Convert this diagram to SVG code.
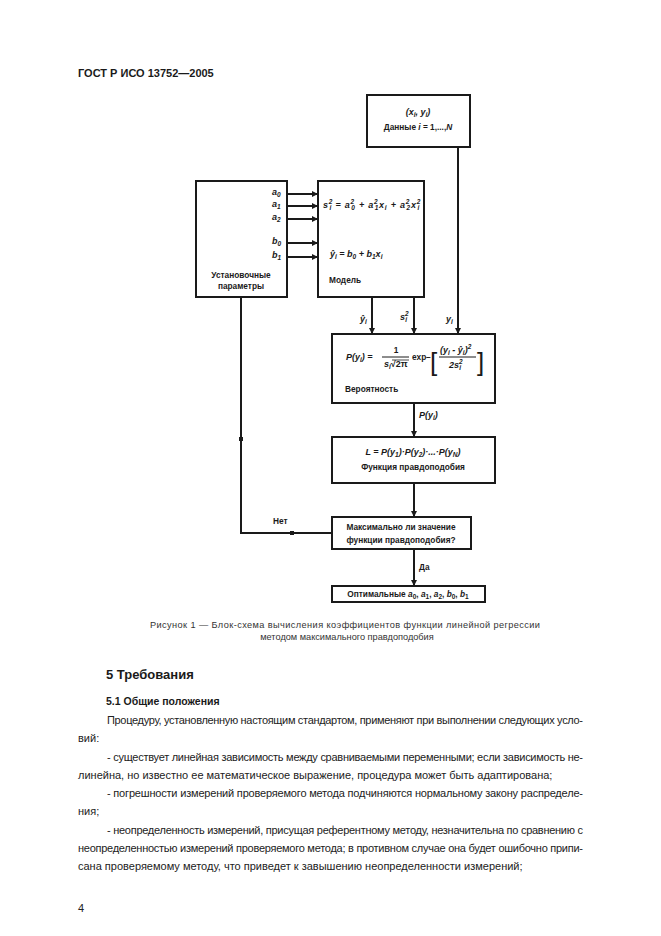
<svg xmlns="http://www.w3.org/2000/svg" width="661" height="936" viewBox="0 0 661 936">
<defs>
<marker id="arr" markerUnits="userSpaceOnUse" markerWidth="6" markerHeight="6" refX="6" refY="3" orient="auto">
<path d="M0,0 L6,3 L0,6 z" fill="#1a1a1a"/>
</marker>
<style>
.box{fill:#fff;stroke:#1a1a1a;stroke-width:2}
.ln{fill:none;stroke:#1a1a1a;stroke-width:2}
.d{font-family:"Liberation Sans",Arial,sans-serif;font-size:8.3px;font-weight:bold;fill:#1a1a1a}
.m{font-family:"Liberation Sans",Arial,sans-serif;font-size:9px;font-weight:bold;font-style:italic;fill:#1a1a1a}
.s{font-size:6.5px}
.b{font-family:"Liberation Sans",Arial,sans-serif;font-size:11px;fill:#222}
.c{font-family:"Liberation Sans",Arial,sans-serif;font-size:9.2px;fill:#333}
</style>
</defs>
<rect width="661" height="936" fill="#fff"/>
<text x="78" y="77" font-family="Liberation Sans,Arial,sans-serif" font-size="11" font-weight="bold" fill="#1a1a1a">ГОСТ Р ИСО 13752—2005</text>

<g id="connectors">
<path class="ln" d="M458,147 V334" marker-end="url(#arr)"/>
<path class="ln" d="M287,194 H318" marker-end="url(#arr)"/>
<path class="ln" d="M287,206 H318" marker-end="url(#arr)"/>
<path class="ln" d="M287,219 H318" marker-end="url(#arr)"/>
<path class="ln" d="M287,243 H318" marker-end="url(#arr)"/>
<path class="ln" d="M287,257 H318" marker-end="url(#arr)"/>
<path class="ln" d="M372,297 V334" marker-end="url(#arr)"/>
<path class="ln" d="M414,297 V334" marker-end="url(#arr)"/>
<path class="ln" d="M414,403 V437" marker-end="url(#arr)"/>
<path class="ln" d="M414,483 V517" marker-end="url(#arr)"/>
<path class="ln" d="M414,549 V586" marker-end="url(#arr)"/>
<path class="ln" d="M332,533 H241 V297"/>
<rect x="239" y="437" width="4" height="4" fill="#1a1a1a"/>
<rect x="290" y="531" width="4" height="4" fill="#1a1a1a"/>
<text class="m" x="360" y="322">ŷ<tspan class="s" dy="2">i</tspan></text>
<text class="m" x="400" y="320">s<tspan class="s" dy="-4">2</tspan><tspan class="s" dx="-3.5" dy="6">i</tspan></text>
<text class="m" x="446" y="322">y<tspan class="s" dy="2">i</tspan></text>
<text class="m" x="419" y="418">P(y<tspan class="s" dy="2">i</tspan><tspan dy="-2">)</tspan></text>
<text class="d" x="273" y="524">Нет</text>
<text class="d" x="419" y="570">Да</text>
</g>

<g id="data">
<rect class="box" x="367" y="95" width="103" height="52"/>
<text class="m" x="418" y="115" text-anchor="middle">(x<tspan class="s" dy="2">i</tspan><tspan dy="-2">, y</tspan><tspan class="s" dy="2">i</tspan><tspan dy="-2">)</tspan></text>
<text class="d" x="418" y="130" text-anchor="middle">Данные <tspan font-style="italic">i</tspan> = 1,...,<tspan font-style="italic">N</tspan></text>
</g>

<g id="params">
<rect class="box" x="196" y="181" width="91" height="116"/>
<text class="m" x="272" y="195">a<tspan class="s" dy="2">0</tspan></text>
<text class="m" x="272" y="207">a<tspan class="s" dy="2">1</tspan></text>
<text class="m" x="272" y="220">a<tspan class="s" dy="2">2</tspan></text>
<text class="m" x="272" y="244">b<tspan class="s" dy="2">0</tspan></text>
<text class="m" x="272" y="258">b<tspan class="s" dy="2">1</tspan></text>
<text class="d" x="241" y="278" text-anchor="middle">Установочные</text>
<text class="d" x="241" y="289" text-anchor="middle">параметры</text>
</g>

<g id="model">
<rect class="box" x="318" y="181" width="106" height="116"/>
<text class="m" x="323" y="208" font-size="9.5" textLength="98" lengthAdjust="spacing">s<tspan class="s" dy="-4">2</tspan><tspan class="s" dx="-3.5" dy="6">i</tspan><tspan dy="-2"> = a</tspan><tspan class="s" dy="-4">2</tspan><tspan class="s" dx="-3.5" dy="6">0</tspan><tspan dy="-2"> + a</tspan><tspan class="s" dy="-4">2</tspan><tspan class="s" dx="-3.5" dy="6">1</tspan><tspan dy="-2">x</tspan><tspan class="s" dy="2">i</tspan><tspan dy="-2"> + a</tspan><tspan class="s" dy="-4">2</tspan><tspan class="s" dx="-3.5" dy="6">2</tspan><tspan dy="-2">x</tspan><tspan class="s" dy="-4">2</tspan><tspan class="s" dx="-3.5" dy="6">i</tspan></text>
<text class="m" x="330" y="257" font-size="9.5">ŷ<tspan class="s" dy="2">i</tspan><tspan dy="-2"> = b</tspan><tspan class="s" dy="2">0</tspan><tspan dy="-2"> + b</tspan><tspan class="s" dy="2">1</tspan><tspan dy="-2">x</tspan><tspan class="s" dy="2">i</tspan></text>
<text class="d" x="329" y="283">Модель</text>
</g>

<g id="probability">
<rect class="box" x="332" y="334" width="163" height="69"/>
<text class="m" x="346" y="360">P(y<tspan class="s" dy="2">i</tspan><tspan dy="-2">) =</tspan></text>
<line x1="382" y1="357" x2="409" y2="357" stroke="#1a1a1a" stroke-width="1"/>
<text class="d" x="396" y="353" text-anchor="middle">1</text>
<text class="m" x="384" y="367">s<tspan class="s" dy="2">i</tspan><tspan dy="-2" font-style="normal">√2π</tspan></text>
<line x1="392" y1="360" x2="409" y2="360" stroke="#1a1a1a" stroke-width="0.8"/>
<text class="d" x="412" y="360">exp</text>
<text class="d" x="426" y="360">–</text>
<text x="430" y="371" font-family="Liberation Sans,Arial,sans-serif" font-size="26" fill="#1a1a1a">[</text>
<text x="477" y="371" font-family="Liberation Sans,Arial,sans-serif" font-size="26" fill="#1a1a1a">]</text>
<line x1="439" y1="357" x2="476" y2="357" stroke="#1a1a1a" stroke-width="1"/>
<text class="m" x="440" y="353">(y<tspan class="s" dy="2">i</tspan><tspan dy="-2"> - ŷ</tspan><tspan class="s" dy="2">i</tspan><tspan dy="-2">)</tspan><tspan class="s" dy="-4">2</tspan></text>
<text class="m" x="449" y="368">2s<tspan class="s" dy="-4">2</tspan><tspan class="s" dx="-3.5" dy="6">i</tspan></text>
<text class="d" x="345" y="392">Вероятность</text>
</g>

<g id="likelihood">
<rect class="box" x="332" y="437" width="163" height="46"/>
<text class="m" x="413" y="455" text-anchor="middle">L = P(y<tspan class="s" dy="2">1</tspan><tspan dy="-2">)·P(y</tspan><tspan class="s" dy="2">2</tspan><tspan dy="-2">)·...·P(y</tspan><tspan class="s" dy="2">N</tspan><tspan dy="-2">)</tspan></text>
<text class="d" x="413" y="470" text-anchor="middle">Функция правдоподобия</text>
</g>

<g id="decision">
<rect class="box" x="332" y="517" width="139" height="32"/>
<text class="d" x="401" y="530" text-anchor="middle">Максимально ли значение</text>
<text class="d" x="401" y="543" text-anchor="middle">функции правдоподобия?</text>
</g>

<g id="optimal">
<rect class="box" x="332" y="586" width="153" height="16"/>
<text class="d" x="408" y="597" text-anchor="middle">Оптимальные <tspan font-style="italic">a</tspan><tspan class="s" dy="2">0</tspan><tspan dy="-2">, </tspan><tspan font-style="italic">a</tspan><tspan class="s" dy="2">1</tspan><tspan dy="-2">, </tspan><tspan font-style="italic">a</tspan><tspan class="s" dy="2">2</tspan><tspan dy="-2">, </tspan><tspan font-style="italic">b</tspan><tspan class="s" dy="2">0</tspan><tspan dy="-2">, </tspan><tspan font-style="italic">b</tspan><tspan class="s" dy="2">1</tspan></text>
</g>

<text class="c" x="150" y="628" textLength="390" lengthAdjust="spacing">Рисунок 1 — Блок-схема вычисления коэффициентов функции линейной регрессии</text>
<text class="c" x="347" y="640" text-anchor="middle">методом максимального правдоподобия</text>

<text x="106" y="679" font-family="Liberation Sans,Arial,sans-serif" font-size="13" font-weight="bold" fill="#1a1a1a">5  Требования</text>
<text x="106" y="705" font-family="Liberation Sans,Arial,sans-serif" font-size="10.5" font-weight="bold" fill="#1a1a1a">5.1  Общие положения</text>

<text class="b" x="107" y="724" textLength="476" lengthAdjust="spacing">Процедуру, установленную настоящим стандартом, применяют при выполнении следующих усло-</text>
<text class="b" x="78" y="742">вий:</text>
<text class="b" x="107" y="761" textLength="476" lengthAdjust="spacing">- существует линейная зависимость между сравниваемыми переменными; если зависимость не-</text>
<text class="b" x="78" y="779">линейна, но известно ее математическое выражение, процедура может быть адаптирована;</text>
<text class="b" x="107" y="797" textLength="476" lengthAdjust="spacing">- погрешности измерений проверяемого метода подчиняются нормальному закону распределе-</text>
<text class="b" x="78" y="815">ния;</text>
<text class="b" x="107" y="834" textLength="476" lengthAdjust="spacing">- неопределенность измерений, присущая референтному методу, незначительна по сравнению с</text>
<text class="b" x="78" y="852" textLength="505" lengthAdjust="spacing">неопределенностью измерений проверяемого метода; в противном случае она будет ошибочно припи-</text>
<text class="b" x="78" y="870">сана проверяемому методу, что приведет к завышению неопределенности измерений;</text>
<text class="b" x="78" y="912">4</text>
</svg>
